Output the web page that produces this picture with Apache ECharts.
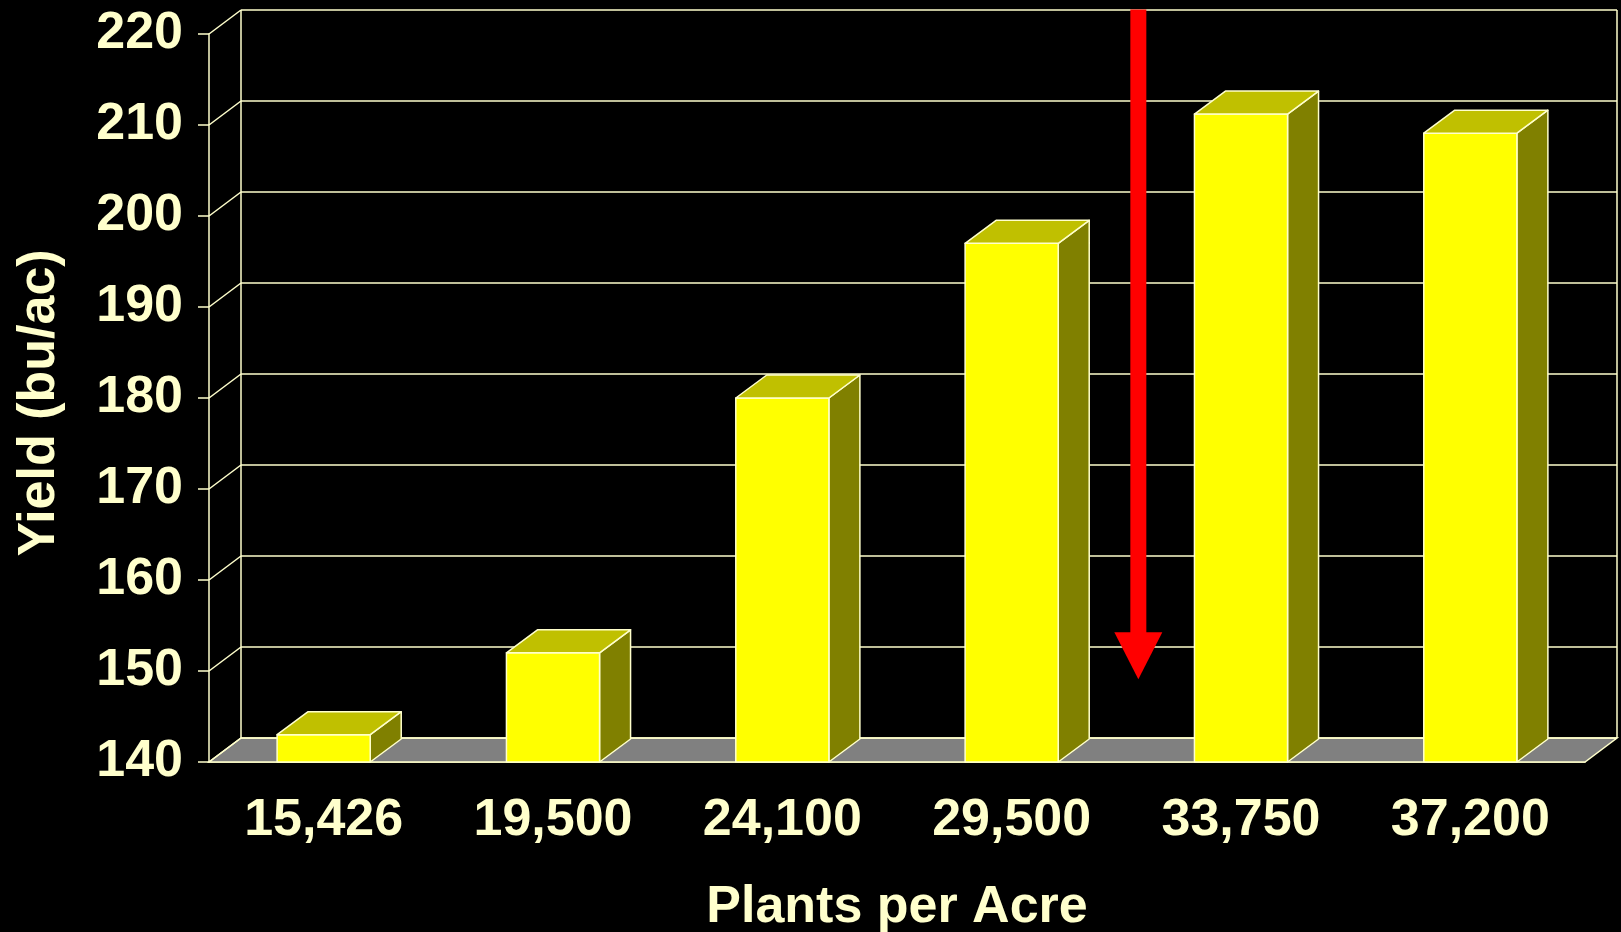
<!DOCTYPE html>
<html>
<head>
<meta charset="utf-8">
<title>Yield vs Plants per Acre</title>
<script src="https://cdn.jsdelivr.net/npm/echarts@6/dist/echarts.min.js"></script>
<style>
  html, body { margin: 0; padding: 0; background: #000; }
  #chart { width: 1621px; height: 932px; }
</style>
</head>
<body>
<div id="chart"></div>
<script>
// Data
const plantLabels = ["15,426", "19,500", "24,100", "29,500", "33,750", "37,200"];
const yieldValues = [143, 152, 180, 197, 211.2, 209.1];
const yTicks = [140, 150, 160, 170, 180, 190, 200, 210, 220];
// red arrow: drawn in the gap after category index 3, from 222.7 down to 149.1
const arrowAfterIndex = 3;
const arrowFrom = 222.7;
const arrowTo = 149.1;

const yMin = yTicks[0];
const yMax = yTicks[yTicks.length - 1];

const TEXT = "#FFFFCC";
const LINE = "#FFFFCC";
const FONT = "'Liberation Sans', Arial, sans-serif";

// 3D depth offsets (px)
const WALL_DX = 32, WALL_DY = -24;
const BAR_DX = 31, BAR_DY = -23;

const chart = echarts.init(document.getElementById("chart"));

// back wall, grid lines, diagonal connectors and floor
function renderFrame(params, api) {
  const cs = params.coordSys;
  const left = cs.x, right = cs.x + cs.width;
  const lineStyle = { stroke: LINE, lineWidth: 1.5 };
  const children = [];

  const yBase = api.coord([0, yMin])[1];
  const yTop = api.coord([0, yMax])[1];

  // floor
  children.push({
    type: "polygon",
    shape: {
      points: [
        [left, yBase], [right, yBase],
        [right + WALL_DX, yBase + WALL_DY], [left + WALL_DX, yBase + WALL_DY],
      ],
    },
    style: { fill: "#808080", stroke: LINE, lineWidth: 1.5 },
  });

  yTicks.forEach((v) => {
    const y = api.coord([0, v])[1];
    // diagonal from front axis to back wall
    children.push({
      type: "line",
      shape: { x1: left, y1: y, x2: left + WALL_DX, y2: y + WALL_DY },
      style: lineStyle,
    });
    // back wall grid line
    children.push({
      type: "line",
      shape: { x1: left + WALL_DX, y1: y + WALL_DY, x2: right + WALL_DX, y2: y + WALL_DY },
      style: lineStyle,
    });
  });

  // back wall verticals
  children.push({
    type: "line",
    shape: { x1: left + WALL_DX, y1: yBase + WALL_DY, x2: left + WALL_DX, y2: yTop + WALL_DY },
    style: lineStyle,
  });
  children.push({
    type: "line",
    shape: { x1: right + WALL_DX, y1: yBase + WALL_DY, x2: right + WALL_DX, y2: yTop + WALL_DY },
    style: lineStyle,
  });

  return { type: "group", children: children };
}

// 3D column: side, front, top
function renderBar(params, api) {
  const idx = api.value(0);
  const top = api.coord([idx, api.value(1)]);
  const base = api.coord([idx, yMin]);
  const w = api.size([1, 0])[0] * 0.406;
  const xl = top[0] - w / 2, xr = top[0] + w / 2;
  const yt = top[1], yb = base[1];
  const edge = { stroke: LINE, lineWidth: 1.5, lineJoin: "round" };

  return {
    type: "group",
    children: [
      {
        type: "polygon",
        shape: { points: [[xr, yt], [xr + BAR_DX, yt + BAR_DY], [xr + BAR_DX, yb + BAR_DY], [xr, yb]] },
        style: Object.assign({ fill: "#808000" }, edge),
      },
      {
        type: "polygon",
        shape: { points: [[xl, yt], [xr, yt], [xr, yb], [xl, yb]] },
        style: Object.assign({ fill: "#FFFF00" }, edge),
      },
      {
        type: "polygon",
        shape: { points: [[xl, yt], [xl + BAR_DX, yt + BAR_DY], [xr + BAR_DX, yt + BAR_DY], [xr, yt]] },
        style: Object.assign({ fill: "#C0C000" }, edge),
      },
    ],
  };
}

function renderArrow(params, api) {
  const i = api.value(0);
  const x = (api.coord([i, yMin])[0] + api.coord([i + 1, yMin])[0]) / 2 + 12;
  const yStart = api.coord([i, api.value(1)])[1];
  const yTip = api.coord([i, api.value(2)])[1];
  const headLen = 47, headHalf = 24, shaftHalf = 8;
  return {
    type: "group",
    children: [
      {
        type: "rect",
        shape: { x: x - shaftHalf, y: yStart, width: shaftHalf * 2, height: yTip - headLen - yStart + 1 },
        style: { fill: "#FF0000" },
      },
      {
        type: "polygon",
        shape: { points: [[x - headHalf, yTip - headLen], [x + headHalf, yTip - headLen], [x, yTip]] },
        style: { fill: "#FF0000" },
      },
    ],
  };
}

const option = {
  backgroundColor: "#000000",
  animation: false,
  grid: { left: 209, right: 36, top: 34, bottom: 170, outerBoundsMode: "none", containLabel: false },
  xAxis: {
    type: "category",
    data: plantLabels,
    name: "Plants per Acre",
    nameLocation: "middle",
    nameGap: 120,
    nameTextStyle: { color: TEXT, fontSize: 52, fontWeight: "bold", fontFamily: FONT },
    axisLine: { lineStyle: { color: LINE, width: 1.5 } },
    axisTick: { length: 10, lineStyle: { color: LINE, width: 1.5 } },
    axisLabel: { color: TEXT, fontSize: 52, fontWeight: "bold", fontFamily: FONT, margin: 33 },
    splitLine: { show: false },
  },
  yAxis: {
    type: "value",
    min: yMin,
    max: yMax,
    interval: 10,
    name: "Yield (bu/ac)",
    nameLocation: "middle",
    nameGap: 143,
    nameTextStyle: {
      color: TEXT, fontSize: 52, fontWeight: "bold", fontFamily: FONT,
      padding: [0, 10, 0, 0],
    },
    axisLine: { show: true, lineStyle: { color: LINE, width: 1.5 } },
    axisTick: { show: true, length: 11, lineStyle: { color: LINE, width: 1.5 } },
    axisLabel: { color: TEXT, fontSize: 52, fontWeight: "bold", fontFamily: FONT, margin: 26 },
    splitLine: { show: false },
  },
  series: [
    {
      name: "frame",
      type: "custom",
      renderItem: renderFrame,
      data: [[0, yMin]],
      silent: true,
      z: 1,
    },
    {
      name: "Yield",
      type: "custom",
      renderItem: renderBar,
      data: yieldValues.map((v, i) => [i, v]),
      encode: { x: 0, y: 1 },
      z: 3,
    },
    {
      name: "arrow",
      type: "custom",
      renderItem: renderArrow,
      data: [[arrowAfterIndex, arrowFrom, arrowTo]],
      encode: { x: 0, y: [1, 2] },
      silent: true,
      z: 5,
    },
  ],
};

chart.setOption(option);
</script>
</body>
</html>
